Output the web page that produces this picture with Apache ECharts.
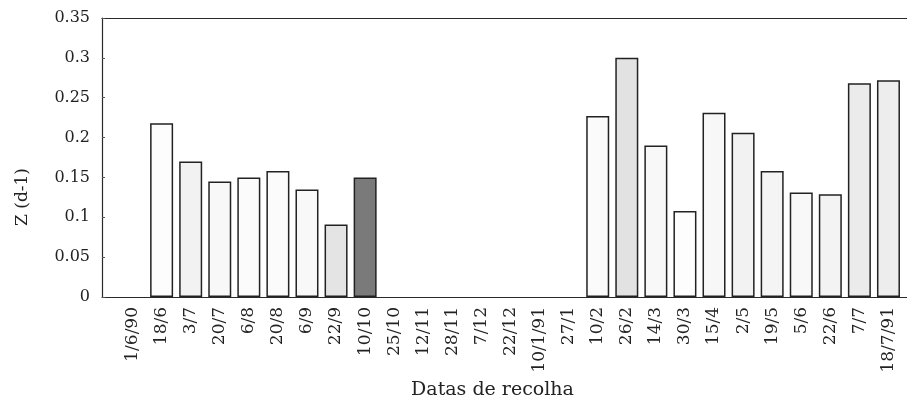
<!DOCTYPE html>
<html>
<head>
<meta charset="utf-8">
<script src="https://cdn.jsdelivr.net/npm/echarts@6/dist/echarts.min.js"></script>
<style>html,body{margin:0;padding:0;background:#fff;}#c{width:907px;height:409px;}</style>
</head>
<body>
<div id="c"></div>
<script>
var categories = ['1/6/90','18/6','3/7','20/7','6/8','20/8','6/9','22/9','10/10','25/10','12/11','28/11','7/12','22/12','10/1/91','27/1','10/2','26/2','14/3','30/3','15/4','2/5','19/5','5/6','22/6','7/7','18/7/91'];
var zValues = [null,0.218,0.170,0.145,0.150,0.158,0.135,0.091,0.150,null,null,null,null,null,null,null,0.227,0.300,0.190,0.108,0.231,0.206,0.158,0.131,0.129,0.268,0.272];
var yTicks = [0,0.05,0.1,0.15,0.2,0.25,0.3,0.35];
var fills = ['#fff','#fdfdfd','#f2f2f2','#f8f8f8','#fbfbfb','#fbfbfb','#f8f8f8','#e4e4e4','#7a7a7a','#fff','#fff','#fff','#fff','#fff','#fff','#fff','#fbfbfb','#e2e2e2','#f8f8f8','#fdfdfd','#f7f7f7','#f2f2f2','#f4f4f4','#f8f8f8','#f3f3f3','#ebebeb','#ededed'];

var font = 'DejaVu Serif';
var chart = echarts.init(document.getElementById('c'), null, {renderer:'canvas'});
var lineStyle = {color:'#2a2a2a', width:1.2};
chart.setOption({
  animation:false,
  backgroundColor:'#fff',
  grid:[
    {left:102, right:0, top:18, bottom:112},
    {left:118, right:4, top:18, bottom:112}
  ],
  xAxis:[
    {gridIndex:0, type:'value', min:0, max:1, position:'bottom', axisLine:{show:true, lineStyle:lineStyle}, axisTick:{show:false}, axisLabel:{show:false}, splitLine:{show:false}},
    {gridIndex:0, type:'value', min:0, max:1, position:'top', axisLine:{show:true, lineStyle:lineStyle}, axisTick:{show:false}, axisLabel:{show:false}, splitLine:{show:false}},
    {gridIndex:1, type:'category', data:categories, boundaryGap:true,
     axisLine:{show:false}, axisTick:{show:false},
     axisLabel:{rotate:90, interval:0, margin:10, fontFamily:font, fontSize:17, color:'#222'},
     name:'Datas de recolha', nameLocation:'middle', nameGap:82,
     nameTextStyle:{fontFamily:font, fontSize:19, color:'#222', padding:[0,0,0,-36]}}
  ],
  yAxis:[
    {gridIndex:0, type:'value', min:0, max:0.35, interval:0.05,
     axisLine:{show:true, lineStyle:lineStyle}, axisTick:{show:true, inside:true, length:3, lineStyle:{color:'#555'}},
     splitLine:{show:false},
     axisLabel:{margin:12, fontFamily:font, fontSize:16, color:'#222',
       formatter:function(v){ for (var i=0;i<yTicks.length;i++){ if (Math.abs(yTicks[i]-v)<1e-9) return String(yTicks[i]); } return ''; }}},
    {gridIndex:1, type:'value', min:0, max:0.35, interval:0.05, show:false}
  ],
  graphic:[
    {type:'text', x:23, y:197, rotation:Math.PI/2,
     style:{text:'Z (d-1)', font:'17px "DejaVu Serif"', fill:'#222', align:'center', verticalAlign:'middle'}}
  ],
  series:[{
    type:'bar', xAxisIndex:2, yAxisIndex:1, barWidth:23,
    data: zValues.map(function(v,i){ return {value:v, itemStyle:{color:fills[i]}}; }),
    itemStyle:{borderColor:'#222', borderWidth:1.5}
  }]
});
</script>
</body>
</html>
